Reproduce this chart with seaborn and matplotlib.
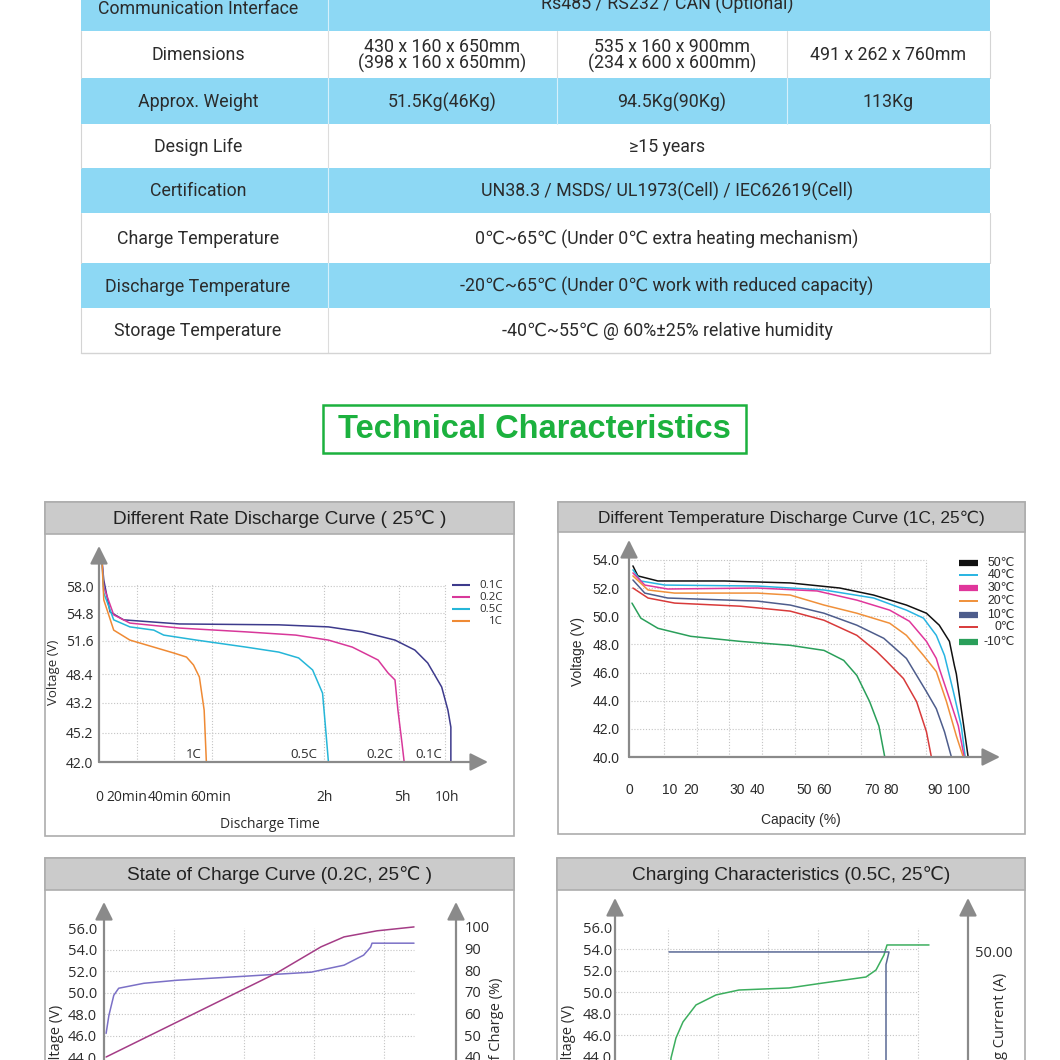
import matplotlib
matplotlib.use("Agg")
import matplotlib.pyplot as plt
import numpy as np
import pandas as pd
import seaborn as sns
from matplotlib.patches import Rectangle

# ------------------------------------------------------------------ data
table_labels = ["Communication Interface", "Dimensions", "Approx. Weight", "Design Life",
                "Certification", "Charge Temperature", "Discharge Temperature",
                "Storage Temperature"]
table_values = [
    ["Rs485 / RS232 / CAN (Optional)"],
    ["430 x 160 x 650mm\n(398 x 160 x 650mm)", "535 x 160 x 900mm\n(234 x 600 x 600mm)",
     "491 x 262 x 760mm"],
    ["51.5Kg(46Kg)", "94.5Kg(90Kg)", "113Kg"],
    ["≥15 years"],
    ["UN38.3 / MSDS/ UL1973(Cell) / IEC62619(Cell)"],
    ["0℃~65℃ (Under 0℃ extra heating mechanism)"],
    ["-20℃~65℃ (Under 0℃ work with reduced capacity)"],
    ["-40℃~55℃ @ 60%±25% relative humidity"],
]

# Panel 1 : different rate discharge (grid units as drawn)
rate_names = ["0.1C", "0.2C", "0.5C", "1C"]
rate_colors = ["#3d3a8c", "#d8389a", "#25b6d8", "#ef8a34"]
c01_t = [0, 0.05, 0.22, 0.59, 2.11, 4.81, 6.16, 7.08, 7.97, 8.51, 8.86, 9.24, 9.41, 9.49, 9.49]
c01_v = [6.89, 6.21, 5.12, 4.85, 4.71, 4.68, 4.61, 4.44, 4.16, 3.82, 3.38, 2.56, 1.77, 1.19, 0]
c02_t = [0, 0.05, 0.32, 0.76, 2.11, 3.92, 5.27, 6.16, 6.81, 7.24, 7.51, 7.78, 7.97, 8.05, 8.16, 8.22]
c02_v = [6.89, 5.97, 5.02, 4.74, 4.57, 4.44, 4.33, 4.16, 3.92, 3.65, 3.48, 3.04, 2.80, 1.77, 0.65, 0]
c05_t = [0, 0.05, 0.32, 0.76, 1.41, 1.68, 2.57, 3.92, 4.81, 5.35, 5.73, 6.0, 6.08, 6.16]
c05_v = [6.89, 5.77, 4.85, 4.61, 4.5, 4.33, 4.16, 3.92, 3.75, 3.55, 3.14, 2.35, 1.19, 0]
c1_t = [0, 0.05, 0.32, 0.76, 1.22, 1.95, 2.3, 2.49, 2.65, 2.78, 2.84]
c1_v = [6.89, 5.53, 4.5, 4.16, 3.99, 3.72, 3.58, 3.31, 2.9, 1.77, 0]
rate_ytick_pos = [0, 0.99, 2.02, 3.0, 4.13, 5.08, 6.0]
rate_ytick_lab = ["42.0", "45.2", "43.2", "48.4", "51.6", "54.8", "58.0"]
rate_xtick_pos = [-0.08, 0.68, 1.81, 2.95, 6.05, 8.16, 9.38]
rate_xtick_lab = ["0", "20min", "40min", "60min", "2h", "5h", "10h"]
rate_xgrid = [0.95, 1.97, 3.0, 6.03, 8.08, 9.32]
rate_end_x = [8.89, 7.57, 5.49, 2.51]

# Panel 2 : different temperature discharge (capacity %, voltage V)
temp_names = ["50℃", "40℃", "30℃", "20℃", "10℃", "0℃", "-10℃"]
temp_colors = ["#111111", "#28b4e2", "#e0369b", "#f0903a", "#4e5d8c", "#d83a3a", "#2a9f5a"]
temp_thick = [True, False, True, False, True, False, True]
t50_c = [0.6, 2.1, 8.2, 28.5, 48.5, 63.6, 73.9, 83.9, 90.0, 93.9, 97.0, 98.5, 99.1, 100.6, 102.7]
t50_v = [53.57, 52.86, 52.5, 52.5, 52.36, 52.0, 51.5, 50.79, 50.21, 49.36, 48.21, 46.5, 45.9, 43.43, 40.0]
t40_c = [0.6, 3.0, 10.3, 38.5, 58.8, 73.9, 83.9, 89.1, 93.0, 95.5, 98.2, 100.6, 101.8]
t40_v = [53.29, 52.5, 52.21, 52.14, 51.86, 51.29, 50.43, 49.86, 48.64, 47.21, 44.64, 42.21, 40.0]
t30_c = [0.6, 4.2, 11.2, 38.5, 56.7, 68.8, 78.8, 84.8, 90.0, 93.0, 93.9, 97.0, 99.7, 101.5]
t30_v = [53.07, 52.21, 51.93, 52.0, 51.79, 51.14, 50.43, 49.64, 48.21, 47.0, 46.29, 44.14, 42.21, 40.0]
t20_c = [0.6, 5.2, 13.3, 38.5, 48.5, 58.8, 68.8, 78.8, 83.9, 89.1, 93.0, 96.1, 99.1, 101.2]
t20_v = [52.86, 51.86, 51.64, 51.64, 51.5, 50.79, 50.21, 49.5, 48.64, 47.21, 46.07, 43.93, 41.5, 40.0]
t10_c = [0.6, 4.2, 11.2, 38.5, 48.5, 58.8, 68.8, 77.0, 83.9, 90.0, 93.0, 95.5, 97.6]
t10_v = [52.57, 51.64, 51.29, 51.07, 50.79, 50.21, 49.36, 48.43, 47.0, 44.64, 43.43, 41.79, 40.0]
t0_c = [0.6, 5.2, 13.3, 33.3, 48.5, 58.8, 68.8, 74.8, 77.9, 83.0, 87.0, 90.0, 91.5]
t0_v = [52.0, 51.29, 50.93, 50.71, 50.36, 49.71, 48.64, 47.5, 46.79, 45.57, 43.93, 41.79, 40.0]
tm10_c = [0.3, 3.0, 8.2, 18.2, 33.3, 48.5, 58.8, 64.8, 68.8, 72.7, 75.5, 77.3]
tm10_v = [50.93, 49.86, 49.14, 48.57, 48.21, 47.93, 47.57, 46.86, 45.79, 43.93, 42.21, 40.0]
temp_ytick = [40, 42, 44, 46, 48, 50, 52, 54]
temp_xtick_pos = [-0.6, 11.8, 18.2, 32.4, 38.5, 52.7, 58.8, 73.3, 79.1, 92.7, 99.7]
temp_xtick_lab = ["0", "10", "20", "30", "40", "50", "60", "70", "80", "90", "100"]
temp_xgrid = [10, 20, 30, 40, 50, 60, 70, 80, 90]

# Panel 3 : state of charge curve
soc_volt_x = [0.03, 0.07, 0.14, 0.21, 0.57, 1.04, 2.0, 2.96, 3.43, 3.71, 3.81, 3.83, 4.43]
soc_volt_v = [46.23, 47.9, 49.77, 50.42, 50.88, 51.16, 51.53, 51.91, 52.56, 53.49, 54.23, 54.6, 54.6]
soc_x = [0.03, 1.2, 2.47, 3.1, 3.43, 3.9, 4.43]
soc_pct = [40, 58.6, 78.8, 90.8, 95.4, 98.2, 100]
soc_vtick = [44, 46, 48, 50, 52, 54, 56]
soc_ptick = [40, 50, 60, 70, 80, 90, 100]

# Panel 4 : charging characteristics
chg_volt_x = [1.04, 1.06, 1.16, 1.3, 1.56, 1.96, 2.42, 3.42, 4.1, 4.96, 5.16, 5.32, 5.38, 6.22]
chg_volt_v = [42.5, 43.9, 45.77, 47.26, 48.84, 49.77, 50.23, 50.42, 50.88, 51.44, 52.09, 53.49, 54.42, 54.42]
chg_cur_x = [1.02, 5.42, 5.36, 5.36]
chg_cur_a = [50.0, 50.0, 44.0, -10.0]
chg_vtick = [44, 46, 48, 50, 52, 54, 56]
chg_ctick = [50]

# ------------------------------------------------------------------ style
sns.set_theme(style="white")
plt.rcParams["font.family"] = ["Liberation Sans", "DejaVu Sans"]
TAB_FONT = ["Roboto", "DejaVu Sans"]
ARIAL = ["Liberation Sans", "DejaVu Sans"]
SEGOE = ["Open Sans", "DejaVu Sans"]
AXC = "#8a8a8a"
GRIDC = "#c4c4c4"
TXT = "#2b2b2b"
BLUE = "#8dd8f4"

W = H = 1060
fig = plt.figure(figsize=(10.6, 10.6), dpi=100)
fig.patch.set_facecolor("white")


def rect(x0, y0, x1, y1):
    return [x0 / W, 1 - y1 / H, (x1 - x0) / W, (y1 - y0) / H]


canvas = fig.add_axes([0, 0, 1, 1])
canvas.set_xlim(0, W)
canvas.set_ylim(H, 0)
canvas.axis("off")

# ------------------------------------------------------------------ table
row_edges = [-14, 31, 78, 124, 168, 213, 263, 308, 353]
row_blue = [True, False, True, False, True, False, True, False]
col_edges = [81, 328, 557, 787, 990]
TX0, TX1 = 81, 990
LABEL_CX, SPAN_CX = 198, 667
TFS = 12.8
for i, lab in enumerate(table_labels):
    y0, y1 = row_edges[i], row_edges[i + 1]
    fc = BLUE if row_blue[i] else "white"
    canvas.add_patch(Rectangle((TX0, y0), TX1 - TX0, y1 - y0, fc=fc, ec="none", zorder=1))
    sep = "#d6f0fb" if row_blue[i] else "#dcdcdc"
    vals = table_values[i]
    seps = [col_edges[1]] if len(vals) == 1 else col_edges[1:4]
    for sx in seps:
        canvas.plot([sx, sx], [y0, y1], color=sep, lw=0.8, zorder=2)
    if not row_blue[i]:
        canvas.plot([TX0, TX0], [y0, y1], color="#d4d4d4", lw=0.8, zorder=2)
        canvas.plot([TX1, TX1], [y0, y1], color="#d4d4d4", lw=0.8, zorder=2)
    yc = (y0 + y1) / 2 + 1
    if i == 0:
        yc = 9
    canvas.text(LABEL_CX, yc, lab, ha="center", va="center",
                fontsize=TFS, color=TXT, family=TAB_FONT, zorder=3)
    if len(vals) == 1:
        vy = 4 if i == 0 else yc
        canvas.text(SPAN_CX, vy, vals[0], ha="center", va="center",
                    fontsize=TFS, color=TXT, family=TAB_FONT, zorder=3)
    else:
        for j, v in enumerate(vals):
            cx = (col_edges[j + 1] + col_edges[j + 2]) / 2
            canvas.text(cx, yc, v, ha="center", va="center", fontsize=TFS, color=TXT,
                        family=TAB_FONT, linespacing=0.9, zorder=3)
canvas.plot([TX0, TX1], [353, 353], color="#d4d4d4", lw=1.0, zorder=2)

# ------------------------------------------------------------------ title box
GREEN = "#1cb13e"
canvas.add_patch(Rectangle((323, 405), 423, 48, fc="none", ec=GREEN, lw=1.8, zorder=3))
canvas.text(534.5, 429, "Technical Characteristics", ha="center", va="center",
            fontsize=23.5, fontweight="bold", color=GREEN, family=ARIAL, zorder=4)


# ------------------------------------------------------------------ panels
def panel(x0, y0, x1, y1, hdr, title, tsize):
    canvas.add_patch(Rectangle((x0, y0), x1 - x0, y1 - y0, fc="white", ec="#adadad", lw=1.2, zorder=1))
    canvas.add_patch(Rectangle((x0, y0), x1 - x0, hdr, fc="#cbcbcb", ec="#adadad", lw=1.2, zorder=2))
    canvas.text((x0 + x1) / 2, y0 + hdr / 2 + 1, title, ha="center", va="center",
                fontsize=tsize, color="#222222", family=ARIAL, zorder=3)


def arrow(ax, start, end):
    ax.annotate("", xy=end, xytext=start, xycoords="axes fraction", textcoords="axes fraction",
                arrowprops=dict(arrowstyle="-|>,head_length=0.9,head_width=0.45", color=AXC, lw=1.6,
                                shrinkA=0, shrinkB=0, mutation_scale=12),
                annotation_clip=False, zorder=5)


def clean(ax):
    ax.set_facecolor("none")
    for s in ax.spines.values():
        s.set_visible(False)
    ax.grid(False)
    ax.tick_params(length=0)


def legend_rows(names, colors, widths, x0, x1, xr, ys, fsize, family):
    for n, c, w, y in zip(names, colors, widths, ys):
        canvas.plot([x0, x1], [y, y], color=c, lw=w, solid_capstyle="butt", zorder=4)
        canvas.text(xr, y, n, ha="right", va="center", fontsize=fsize, color=TXT,
                    family=family, zorder=4)


panel(45, 502, 514, 836, 32, "Different Rate Discharge Curve ( 25℃ )", 13.7)
panel(558, 502, 1025, 834, 30, "Different Temperature Discharge Curve (1C, 25℃)", 12.4)
panel(45, 858, 514, 1085, 32, "State of Charge Curve (0.2C, 25℃ )", 13.7)
panel(557, 858, 1025, 1085, 32, "Charging Characteristics (0.5C, 25℃)", 13.7)

LW = 1.1
DOT = (0, (1, 1.6))

# ---- panel 1
ax1 = fig.add_axes(rect(99, 546, 488, 762))
clean(ax1)
rate_series = [(c01_t, c01_v), (c02_t, c02_v), (c05_t, c05_v), (c1_t, c1_v)]
df1 = pd.concat([pd.DataFrame({"t": t, "v": v, "rate": n})
                 for (t, v), n in zip(rate_series, rate_names)], ignore_index=True)
ax1.hlines(rate_ytick_pos[1:], 0, rate_xgrid[-1], colors=GRIDC, linestyles=DOT, lw=0.8)
ax1.vlines(rate_xgrid, 0, rate_ytick_pos[-1] + 0.12, colors=GRIDC, linestyles=DOT, lw=0.8)
sns.lineplot(data=df1, x="t", y="v", hue="rate", palette=dict(zip(rate_names, rate_colors)),
             estimator=None, sort=False, legend=False, lw=LW, ax=ax1)
ax1.set_xlim(0, 10.5)
ax1.set_ylim(0, 7.37)
ax1.set_xticks(rate_xtick_pos, rate_xtick_lab)
ax1.set_yticks(rate_ytick_pos, rate_ytick_lab)
ax1.tick_params(axis="y", pad=4, labelsize=10, labelcolor=TXT)
ax1.tick_params(axis="x", pad=20, labelsize=10, labelcolor=TXT)
for lab in ax1.get_xticklabels() + ax1.get_yticklabels():
    lab.set_family(SEGOE)
ax1.set_xlabel("")
ax1.set_ylabel("")
arrow(ax1, (0, 0), (0, 1))
arrow(ax1, (0, 0), (1, 0))
for n, ex in zip(rate_names, rate_end_x):
    ax1.text(ex, 0.05, n, ha="center", va="bottom", fontsize=9.5, color=TXT, family=SEGOE)
legend_rows(rate_names, rate_colors, [1.5] * 4, 452, 470, 503, [585, 597, 609, 621], 8.2, SEGOE)
canvas.text(53, 672, "Voltage (V)", rotation=90, ha="center", va="center", fontsize=9.5,
            color=TXT, family=SEGOE, zorder=3)
canvas.text(270, 824, "Discharge Time", ha="center", va="center", fontsize=10,
            color=TXT, family=SEGOE, zorder=3)

# ---- panel 2
ax2 = fig.add_axes(rect(629, 540, 1000, 757))
clean(ax2)
temp_series = [(t50_c, t50_v), (t40_c, t40_v), (t30_c, t30_v), (t20_c, t20_v),
               (t10_c, t10_v), (t0_c, t0_v), (tm10_c, tm10_v)]
df2 = pd.concat([pd.DataFrame({"c": c, "v": v, "temp": n})
                 for (c, v), n in zip(temp_series, temp_names)], ignore_index=True)
ax2.hlines(temp_ytick[1:], 0, temp_xgrid[-1], colors=GRIDC, linestyles=DOT, lw=0.8)
ax2.vlines(temp_xgrid, 40, temp_ytick[-1], colors=GRIDC, linestyles=DOT, lw=0.8)
sns.lineplot(data=df2, x="c", y="v", hue="temp", palette=dict(zip(temp_names, temp_colors)),
             estimator=None, sort=False, legend=False, lw=LW, ax=ax2)
ax2.set_xlim(0, 112.4)
ax2.set_ylim(40, 55.41)
ax2.set_xticks(temp_xtick_pos, temp_xtick_lab)
ax2.set_yticks(temp_ytick, [f"{v:.1f}" for v in temp_ytick])
ax2.tick_params(axis="y", pad=7, labelsize=10, labelcolor=TXT)
ax2.tick_params(axis="x", pad=19, labelsize=10, labelcolor=TXT)
ax2.set_xlabel("")
ax2.set_ylabel("")
arrow(ax2, (0, 0), (0, 1))
arrow(ax2, (0, 0), (1, 0))
leg2_w = [4.5 if th else 1.4 for th in temp_thick]
legend_rows(temp_names, temp_colors, leg2_w, 959, 978, 1015,
            [563, 575, 588, 601, 615, 627, 642], 8.8, ARIAL)
canvas.text(578, 651, "Voltage (V)", rotation=90, ha="center", va="center", fontsize=10,
            color=TXT, family=ARIAL, zorder=3)
canvas.text(801, 820, "Capacity (%)", ha="center", va="center", fontsize=10,
            color=TXT, family=ARIAL, zorder=3)

# ---- panel 3
ax3 = fig.add_axes(rect(104, 902, 456, 1079))
clean(ax3)
ax3b = ax3.twinx()
clean(ax3b)
ax3.hlines(soc_vtick[1:-1], 0, 4.43, colors=GRIDC, linestyles=DOT, lw=0.8)
ax3.vlines([1, 2, 3, 4], 42, 56, colors=GRIDC, linestyles=DOT, lw=0.8)
df3a = pd.DataFrame({"x": soc_volt_x, "v": soc_volt_v})
df3b = pd.DataFrame({"x": soc_x, "p": soc_pct})
sns.lineplot(data=df3a, x="x", y="v", color="#7b70c6", estimator=None, sort=False, lw=LW, ax=ax3)
sns.lineplot(data=df3b, x="x", y="p", color="#a43c86", estimator=None, sort=False, lw=LW, ax=ax3b)
ax3.set_xlim(0, 5.03)
ax3.set_ylim(42, 58.42)
ax3b.set_ylim(29.85, 111.5)
ax3.set_xticks([])
ax3.set_yticks(soc_vtick, [f"{v:.1f}" for v in soc_vtick])
ax3b.set_yticks(soc_ptick, [str(v) for v in soc_ptick])
ax3.tick_params(axis="y", pad=5, labelsize=10.5, labelcolor=TXT)
ax3b.tick_params(axis="y", pad=6, labelsize=10.5, labelcolor=TXT)
for lab in ax3.get_yticklabels() + ax3b.get_yticklabels():
    lab.set_family(SEGOE)
for a in (ax3, ax3b):
    a.set_xlabel("")
    a.set_ylabel("")
arrow(ax3, (0, 0), (0, 1))
arrow(ax3, (1, 0), (1, 1))
canvas.text(56, 1041, "Voltage (V)", rotation=90, ha="center", va="center", fontsize=10.5,
            color=TXT, family=SEGOE, zorder=3)
canvas.text(497, 1042, "State of Charge (%)", rotation=90, ha="center", va="center",
            fontsize=10.5, color=TXT, family=SEGOE, zorder=3)

# ---- panel 4
ax4 = fig.add_axes(rect(615, 898, 968, 1079))
clean(ax4)
ax4b = ax4.twinx()
clean(ax4b)
ax4.hlines(chg_vtick[1:-1], -0.06, 5.98, colors=GRIDC, linestyles=DOT, lw=0.8)
ax4.vlines([1, 2, 3, 4, 5, 6], 42, 56, colors=GRIDC, linestyles=DOT, lw=0.8)
df4a = pd.DataFrame({"x": chg_volt_x, "v": chg_volt_v})
df4b = pd.DataFrame({"x": chg_cur_x, "a": chg_cur_a})
sns.lineplot(data=df4b, x="x", y="a", color="#5a6995", estimator=None, sort=False, lw=LW, ax=ax4b)
sns.lineplot(data=df4a, x="x", y="v", color="#3cae5e", estimator=None, sort=False, lw=LW, ax=ax4)
ax4.set_xlim(-0.06, 7.0)
ax4.set_ylim(41.95, 58.79)
ax4b.set_ylim(-10.5, 75.7)
ax4.set_xticks([])
ax4.set_yticks(chg_vtick, [f"{v:.1f}" for v in chg_vtick])
ax4b.set_yticks(chg_ctick, [f"{v:.2f}" for v in chg_ctick])
ax4.tick_params(axis="y", pad=2, labelsize=10.5, labelcolor=TXT)
ax4b.tick_params(axis="y", pad=5, labelsize=10.5, labelcolor=TXT)
for lab in ax4.get_yticklabels() + ax4b.get_yticklabels():
    lab.set_family(SEGOE)
for a in (ax4, ax4b):
    a.set_xlabel("")
    a.set_ylabel("")
arrow(ax4, (0, 0), (0, 1))
arrow(ax4, (1, 0), (1, 1))
canvas.text(569, 1041, "Voltage (V)", rotation=90, ha="center", va="center", fontsize=10.5,
            color=TXT, family=SEGOE, zorder=3)
canvas.text(1000, 1042, "Charging Current (A)", rotation=90, ha="center", va="center",
            fontsize=10.5, color=TXT, family=SEGOE, zorder=3)

fig.savefig("out.png", dpi=100, facecolor="white")
